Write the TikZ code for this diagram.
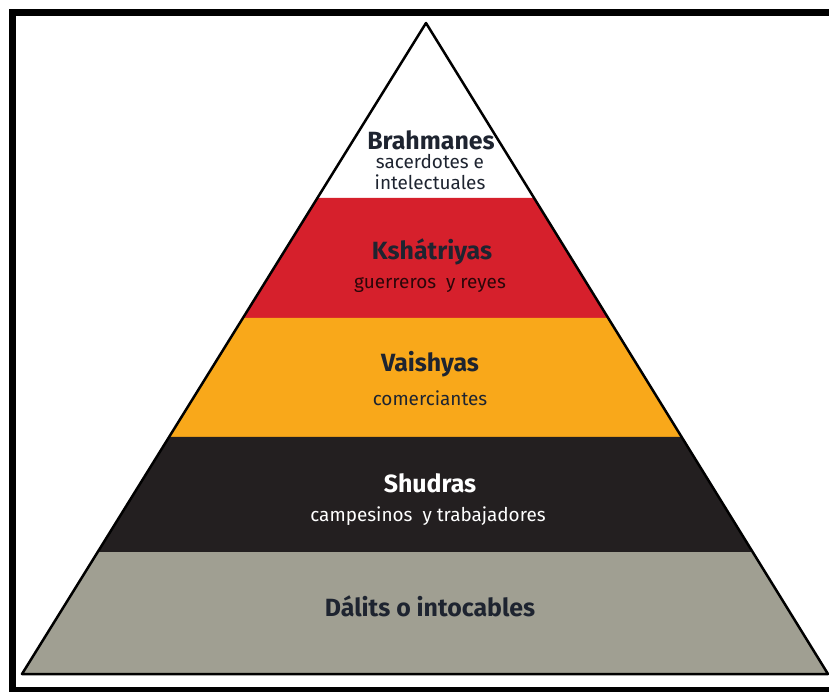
\documentclass[tikz,border=0pt]{standalone}
\usepackage{fontspec}
\setmainfont{Fira Sans}
\usetikzlibrary{calc,positioning}
\definecolor{castered}{RGB}{214,32,44}
\definecolor{casteorange}{RGB}{249,168,26}
\definecolor{casteblack}{RGB}{35,31,32}
\definecolor{castegrey}{RGB}{160,159,146}
\definecolor{inkdark}{RGB}{30,36,48}

\begin{document}
\begin{tikzpicture}[x=1bp,y=-1bp,
    caste/.style={font=\bfseries\fontsize{25}{27}\selectfont, text=inkdark, inner sep=0pt},
    role/.style={font=\fontsize{19}{22}\selectfont, text=inkdark, align=center, inner sep=0pt}]
    \useasboundingbox (0,0) rectangle (829,692);
    \coordinate (apex) at (426,23);
    \coordinate (bl) at (22,674);
    \coordinate (br) at (828,674);
    \foreach \a/\b/\c in {0.2688/0.4531/castered, 0.4531/0.6359/casteorange, 0.6359/0.8126/casteblack, 0.8126/1/castegrey}
        \fill[\c] ($(apex)!\a!(bl)$) -- ($(apex)!\b!(bl)$) -- ($(apex)!\b!(br)$) -- ($(apex)!\a!(br)$) -- cycle;
    \draw[line width=2.5bp, line join=round] (bl) -- (apex) -- (br) -- cycle;
    \draw[line width=7bp] (829,13) -- (12,13) -- (12,690) -- (829,690);
    \node[caste] (brahmanes) at (431,140) {Brahmanes};
    \node[role] (sacerdotes) at (430,172) {sacerdotes e\\intelectuales};
    \node[caste] (kshatriyas) at (432,252) {Kshátriyas};
    \node[role, text=black!80!castered] (guerreros) at (430,285) {guerreros~ y reyes};
    \node[caste] (vaishyas) at (430,364) {Vaishyas};
    \node[role] (comerciantes) at (430,398) {comerciantes};
    \node[caste, text=white] (shudras) at (430,483) {Shudras};
    \node[role, text=white] (campesinos) at (428,516) {campesinos~ y trabajadores};
    \node[caste] (dalits) at (430,606) {Dálits o intocables};
\end{tikzpicture}
\end{document}
